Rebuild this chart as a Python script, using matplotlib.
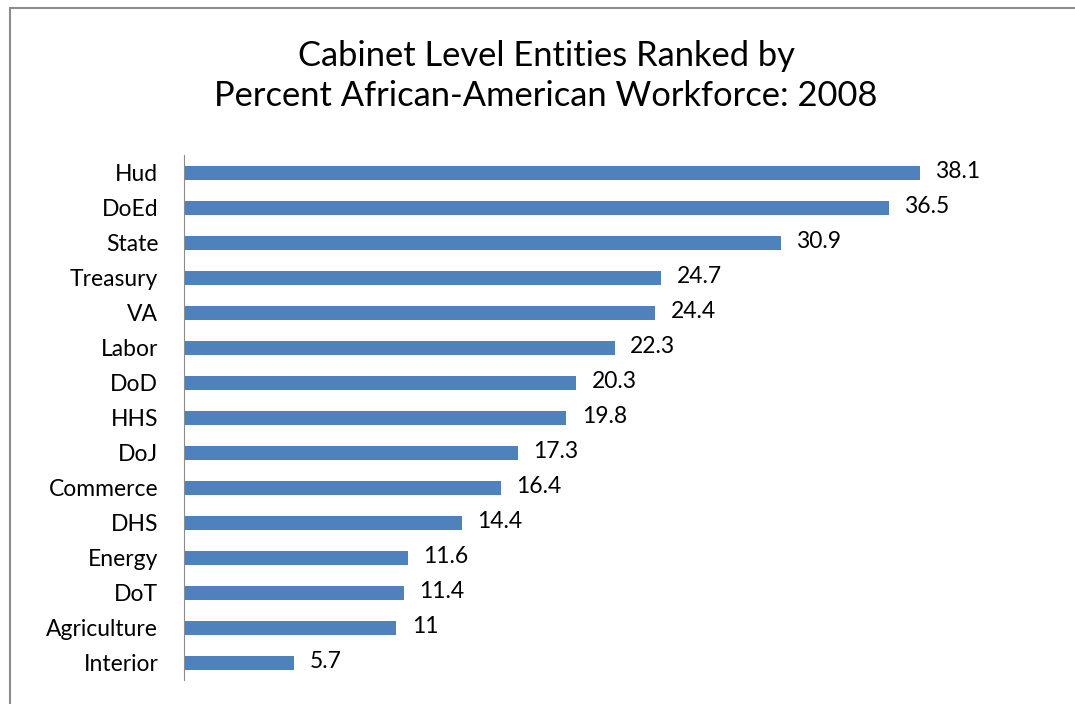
import matplotlib.pyplot as plt
from matplotlib.patches import Rectangle

# data
entities = ["Hud", "DoEd", "State", "Treasury", "VA", "Labor", "DoD", "HHS",
            "DoJ", "Commerce", "DHS", "Energy", "DoT", "Agriculture", "Interior"]
percents = [38.1, 36.5, 30.9, 24.7, 24.4, 22.3, 20.3, 19.8,
            17.3, 16.4, 14.4, 11.6, 11.4, 11, 5.7]
value_labels = ["38.1", "36.5", "30.9", "24.7", "24.4", "22.3", "20.3", "19.8",
                "17.3", "16.4", "14.4", "11.6", "11.4", "11", "5.7"]

plt.rcParams['font.family'] = ['Lato', 'DejaVu Sans']

fig = plt.figure(figsize=(10.75, 7.04), dpi=100)

# chart border
fig.patches.append(Rectangle((10 / 1075, -0.02), 1.1, 1 - 8 / 704 + 0.02,
                             transform=fig.transFigure, fill=False,
                             edgecolor='#8c8c8c', linewidth=1.5))

ax = fig.add_axes([184 / 1075, 1 - 680 / 704, (1053 - 184) / 1075, 525 / 704])

ypos = range(len(entities))
ax.barh(ypos, percents, height=0.4, color='#4f81bd')
for y, v, lab in zip(ypos, percents, value_labels):
    ax.text(v + 0.8, y - 0.03, lab, va='center', ha='left', fontsize=16.5, color='black')

ax.set_xlim(0, 45)
ax.set_ylim(14.5, -0.5)
ax.set_yticks(list(ypos))
ax.set_yticklabels(entities, fontsize=16.5)
ax.tick_params(axis='y', length=0, pad=18.5)
ax.set_xticks([])
for s in ['top', 'right', 'bottom']:
    ax.spines[s].set_visible(False)
ax.spines['left'].set_color('#8c8c8c')

fig.text(0.508, 1 - 76 / 704, "Cabinet Level Entities Ranked by\nPercent African-American Workforce: 2008",
         ha='center', va='center', fontsize=24.8, linespacing=1.3)

fig.savefig('out.png', dpi=100)
